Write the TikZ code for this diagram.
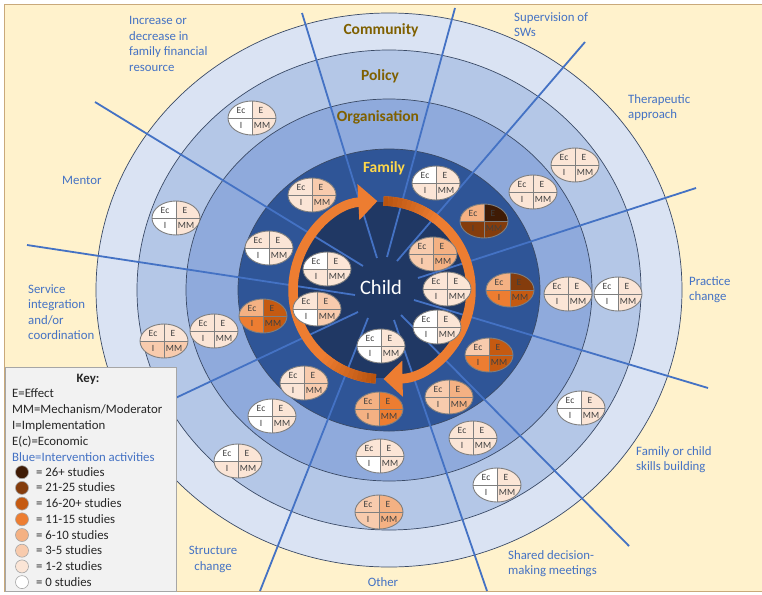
\documentclass[tikz,border=0pt]{standalone}
\usepackage{fontspec}
\setmainfont{Carlito}
\usetikzlibrary{arrows.meta}
\definecolor{cream}{HTML}{FFF2CC}
\definecolor{framec}{HTML}{C9A97A}
\definecolor{ringA}{HTML}{DAE3F3}
\definecolor{ringB}{HTML}{B4C7E7}
\definecolor{ringC}{HTML}{8FAADC}
\definecolor{ringD}{HTML}{2F5597}
\definecolor{ringE}{HTML}{203864}
\definecolor{ringline}{HTML}{3A4A66}
\definecolor{spokec}{HTML}{4472C4}
\definecolor{labblue}{HTML}{4472C4}
\definecolor{levbrown}{HTML}{7F6000}
\definecolor{famyel}{HTML}{FFD84A}
\definecolor{arrc}{HTML}{ED7D31}
\definecolor{arrdark}{HTML}{B9540F}
\definecolor{cz}{HTML}{FFFFFF}
\definecolor{ca}{HTML}{FBE5D6}
\definecolor{cb}{HTML}{F8CBAD}
\definecolor{cc}{HTML}{F4B183}
\definecolor{cd}{HTML}{ED7D31}
\definecolor{ce}{HTML}{C55A11}
\definecolor{cf}{HTML}{843C0C}
\definecolor{cg}{HTML}{3F1B05}
\definecolor{ovline}{HTML}{7F7F7F}
\definecolor{keybg}{HTML}{F2F2F2}
\definecolor{keyline}{HTML}{A6A6A6}
\tikzset{
  ring/.style={draw=ringline, line width=0.7pt},
  spk/.style={draw=spokec, line width=1.8pt},
  lab/.style={text=labblue, font=\fontsize{12.8}{15.6}\selectfont, inner sep=0pt, align=left, anchor=north west},
  lev/.style={text=levbrown, font=\fontsize{15.5}{18}\selectfont\bfseries, inner sep=0pt, anchor=base},
  ovtxt/.style={text=black!75, font=\fontsize{9.5}{10}\selectfont, inner sep=0pt},
  keytxt/.style={font=\fontsize{12.8}{15}\selectfont, inner sep=0pt, anchor=base west, text=black!85},
  keydot/.style={circle, draw=ovline!70, line width=0.6pt, minimum size=13pt, inner sep=0pt},
  band/.style={line width=9.5pt, draw=arrc, -{Triangle[width=35pt,length=19pt]}},
  bandseg/.style={line width=9.5pt},
  pics/oval/.style n args={4}{code={
    \begin{scope}
      \clip (0,0) ellipse (24 and 17);
      \fill[#1] (-25,-18) rectangle (0,0);
      \fill[#2] (0,-18) rectangle (25,0);
      \fill[#3] (-25,0) rectangle (0,18);
      \fill[#4] (0,0) rectangle (25,18);
      \draw[ovline, line width=0.8pt] (-25,0) -- (25,0) (0,-18) -- (0,18);
    \end{scope}
    \draw[ovline, line width=0.9pt] (0,0) ellipse (24 and 17);
    \node[ovtxt] (-ec) at (-11,-7.5) {Ec};
    \node[ovtxt] (-e) at (9,-7.5) {E};
    \node[ovtxt] (-i) at (-11,7.5) {I};
    \node[ovtxt] (-mm) at (10,7.5) {MM};
  }},
}
\begin{document}
\begin{tikzpicture}[x=1pt,y=-1pt]
\useasboundingbox (0,0) rectangle (762,594);
% background
\draw[fill=cream, draw=framec, line width=1pt] (4,5) rectangle (763,591);
% rings
\coordinate (C) at (389,290);
\coordinate (K) at (382,290);
\draw[ring, fill=ringA] (C) ellipse (293 and 277);
\draw[ring, fill=ringB] (C) ellipse (252 and 240);
\draw[ring, fill=ringC] (C) ellipse (203 and 191);
\draw[ring, fill=ringD] (C) ellipse (151 and 141);
\fill[ringE] (K) circle (88);
% spokes
\coordinate (s1a) at (95,102);   \coordinate (s1b) at (363,266);
\coordinate (s2a) at (302,13);   \coordinate (s2b) at (377,258);
\coordinate (s3a) at (455,8);    \coordinate (s3b) at (387,257);
\coordinate (s4a) at (585,42);   \coordinate (s4b) at (397,261);
\coordinate (s5a) at (696,188);  \coordinate (s5b) at (418,278);
\coordinate (s6a) at (708,388);  \coordinate (s6b) at (414,300);
\coordinate (s7a) at (629,546);  \coordinate (s7b) at (401,315);
\coordinate (s8a) at (487,591);  \coordinate (s8b) at (394,320);
\coordinate (s9a) at (260,591);  \coordinate (s9b) at (368,318);
\coordinate (s10a) at (150,410); \coordinate (s10b) at (358,312);
\coordinate (s11a) at (27,245);  \coordinate (s11b) at (355,295);
\foreach \i in {1,...,11} { \draw[spk] (s\i a) -- (s\i b); }
% orange cycle arrows
\draw[band] ([shift={(94:89)}]K) arc[start angle=94, end angle=267, radius=89];
\draw[band] ([shift={(271:89)}]K) arc[start angle=271, end angle=449, radius=89];
\foreach \k in {0,...,11} {
  \pgfmathsetmacro{\pct}{100-\k*8.5}
  \draw[bandseg, draw=arrdark!\pct!arrc] ([shift={({94+\k*3}:89)}]K) arc[start angle={94+\k*3}, end angle={97.2+\k*3}, radius=89];
  \draw[bandseg, draw=arrdark!\pct!arrc] ([shift={({271+\k*3}:89)}]K) arc[start angle={271+\k*3}, end angle={274.2+\k*3}, radius=89];
}
% level labels
\node[lev] (lcom) at (381,35) {Community};
\node[lev] (lpol) at (380,81) {Policy};
\node[lev] (lorg) at (378,121) {Organisation};
\node[lev, text=famyel] (lfam) at (384,172) {Family};
\node[text=white, font=\fontsize{20.5}{22}\selectfont, inner sep=0pt, anchor=base] (child) at (381,294) {Child};
% ovals
\pic (o1) at (252,118) {oval={cz}{ca}{cz}{ca}};
\pic (o2) at (312,195) {oval={ca}{cb}{ca}{cb}};
\pic (o3) at (269,248) {oval={ca}{ca}{cz}{ca}};
\pic (o4) at (327,269) {oval={cz}{ca}{ca}{ca}};
\pic (o5) at (317,309) {oval={ca}{cb}{cz}{cb}};
\pic (o6) at (263,316) {oval={cc}{ce}{cd}{ce}};
\pic (o7) at (214,331) {oval={ca}{ca}{ca}{ca}};
\pic (o8) at (164,341) {oval={ca}{ca}{cb}{cb}};
\pic (o9) at (176,218) {oval={cz}{ca}{cz}{ca}};
\pic (o10) at (436,183) {oval={cz}{ca}{ca}{ca}};
\pic (o11) at (533,192) {oval={ca}{ca}{ca}{ca}};
\pic (o12) at (575,165) {oval={ca}{ca}{ca}{ca}};
\pic (o13) at (484,221) {oval={cc}{cg}{cf}{cf}};
\pic (o14) at (433,254) {oval={cb}{cc}{cb}{cc}};
\pic (o15) at (447,289) {oval={ca}{ca}{ca}{ca}};
\pic (o16) at (510,290) {oval={cc}{cf}{cd}{ce}};
\pic (o17) at (568,294) {oval={ca}{ca}{ca}{ca}};
\pic (o18) at (618,294) {oval={cz}{ca}{cz}{ca}};
\pic (o19) at (437,327) {oval={cz}{ca}{cz}{ca}};
\pic (o20) at (381,346) {oval={cz}{ca}{cz}{ca}};
\pic (o21) at (489,355) {oval={cb}{ce}{cd}{ce}};
\pic (o22) at (449,397) {oval={cb}{cc}{cb}{cc}};
\pic (o23) at (379,409) {oval={cc}{cd}{cc}{cd}};
\pic (o24) at (304,383) {oval={ca}{cb}{ca}{cb}};
\pic (o25) at (272,416) {oval={cz}{ca}{cz}{ca}};
\pic (o26) at (380,456) {oval={ca}{ca}{cz}{ca}};
\pic (o27) at (473,438) {oval={ca}{ca}{ca}{ca}};
\pic (o28) at (497,485) {oval={cz}{ca}{cz}{ca}};
\pic (o29) at (379,512) {oval={cb}{cc}{cb}{cc}};
\pic (o30) at (238,461) {oval={cz}{ca}{ca}{ca}};
\pic (o31) at (581,408) {oval={cz}{ca}{cz}{ca}};
% outer labels
\node[lab] (tinc) at (129,16) {Increase or\\decrease in\\family financial\\resource};
\node[lab] (tmen) at (62,176) {Mentor};
\node[lab] (tser) at (28,284) {Service\\integration\\and/or\\coordination};
\node[lab] (tsup) at (514,12) {Supervision of\\SWs};
\node[lab] (tthe) at (628,94) {Therapeutic\\approach};
\node[lab] (tpra) at (689,276) {Practice\\change};
\node[lab] (tfam) at (636,446) {Family or child\\skills building};
\node[lab] (tsha) at (508,550) {Shared decision-\\making meetings};
\node[lab, anchor=base] (toth) at (383,586) {Other};
\node[lab, anchor=north, align=center] (tstr) at (213,546) {Structure\\change};
% key
\draw[draw=keyline, fill=keybg, line width=0.8pt] (5,367) rectangle (176,591);
\node[keytxt, anchor=base, font=\fontsize{12.8}{15}\selectfont\bfseries] (kkey) at (88,382) {Key:};
\node[keytxt] (k1) at (12,397) {E=Effect};
\node[keytxt] (k2) at (12,413) {MM=Mechanism/Moderator};
\node[keytxt] (k3) at (12,429) {I=Implementation};
\node[keytxt] (k4) at (12,445) {E(c)=Economic};
\node[keytxt, text=labblue] (k5) at (12,461) {Blue=Intervention activities};
\foreach \col/\txt [count=\n] in {cg/26+ studies, cf/21-25 studies, ce/16-20+ studies, cd/11-15 studies, cc/6-10 studies, cb/3-5 studies, ca/1-2 studies, cz/0 studies} {
  \node[keydot, fill=\col] (kd\n) at (22,{456.5+15.7*\n}) {};
  \node[keytxt] (kt\n) at (36,{460.5+15.7*\n}) {= \txt};
}
\end{tikzpicture}
\end{document}
